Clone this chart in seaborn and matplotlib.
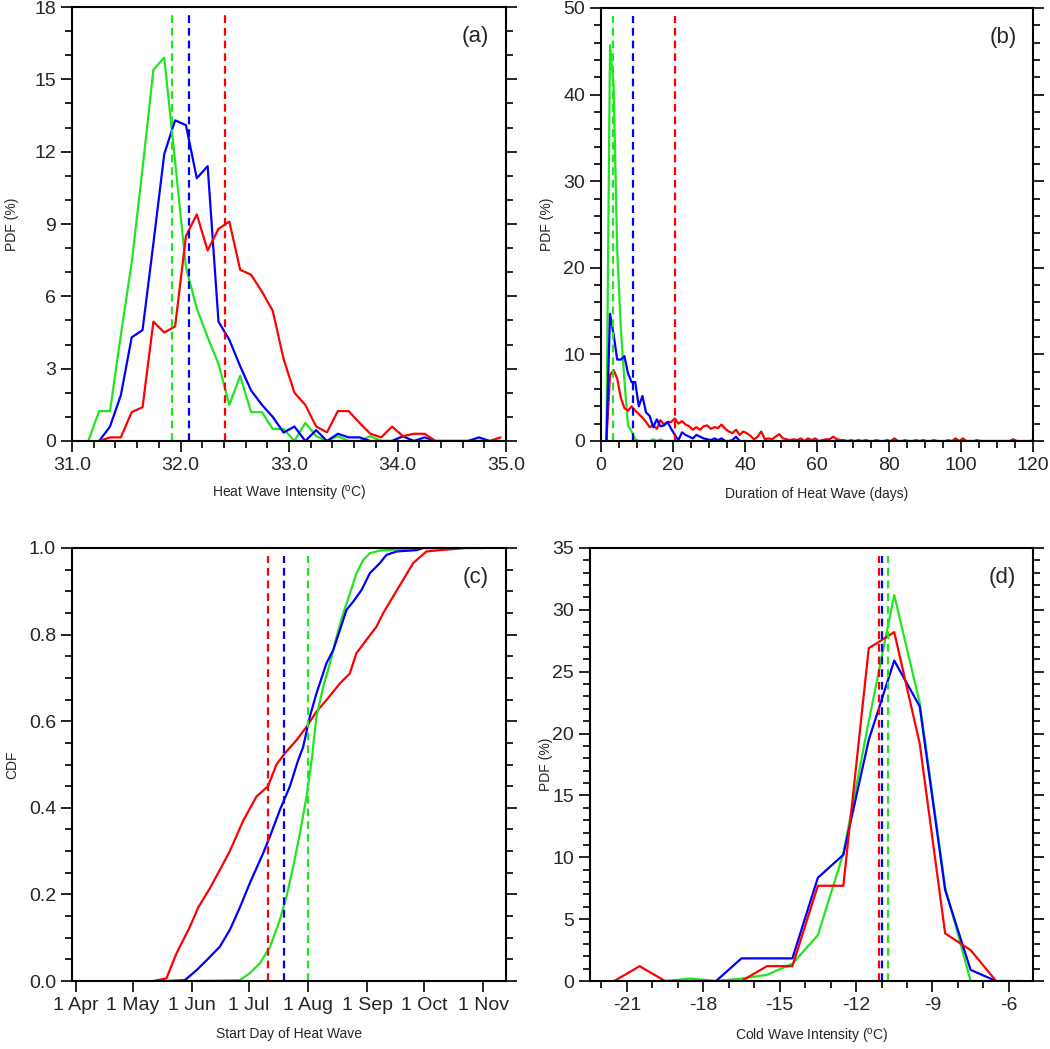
import numpy as np
import pandas as pd
import matplotlib
matplotlib.use('Agg')
import matplotlib.pyplot as plt
import seaborn as sns
from matplotlib.ticker import MultipleLocator, FixedLocator, FormatStrFormatter

# ---- data ----
# (a) heat wave intensity PDF, bin centres 31.15 .. 34.95
intensity_bins = np.round(np.arange(31.15, 35.0, 0.1), 2)
hw_int_green = [0, 1.24, 1.24, 4.4, 7.4, 11.3, 15.4, 15.9, 11.6, 7.2, 5.5, 4.3, 3.2, 1.5, 2.7,
                1.2, 1.2, 0.5, 0.5, 0, 0.75, 0.2, 0, 0.2, 0, 0, 0.2, 0, 0, 0.2,
                0, 0, 0, 0, 0, 0, 0, 0, 0]
hw_int_blue = [np.nan, 0, 0.6, 1.9, 4.3, 4.6, 8.2, 11.9, 13.3, 13.1, 10.9, 11.4, 4.95, 4.2, 3.1,
               2.1, 1.5, 1.0, 0.35, 0.6, 0, 0.45, 0, 0.3, 0.15, 0.15, 0, 0, 0, 0.2,
               0, 0.15, 0, 0, 0, 0, 0.15, 0, 0]
hw_int_red = [np.nan, 0, 0.15, 0.15, 1.2, 1.4, 4.95, 4.5, 4.75, 8.5, 9.4, 7.9, 8.8, 9.1, 7.1,
              6.9, 6.2, 5.4, 3.4, 2.0, 1.5, 0.6, 0.36, 1.24, 1.24, 0.75, 0.3, 0.15, 0.6, 0.2,
              0.3, 0.3, 0, 0, 0, 0, 0, 0, 0.15]
hw_int_means = {'green': 31.92, 'blue': 32.08, 'red': 32.41}

# (b) heat wave duration PDF, daily bins (centres at k + 0.5)
dur_green = [0, 45.7, 41, 22, 13, 7, 1.8, 1.1, 0.2, 0, 0, 0, 0, 0.2, 0, 0.2, 0, 0, 0, 0]
dur_blue = [0, 14.7, 12.3, 9.4, 9.4, 9.8, 7.8, 6.8, 6.8, 4.0, 5.2, 3.3, 2.9, 1.6, 2.5, 1.7, 1.8,
            2.2, 1.4, 0.7, 0.1, 1.0, 0.7, 0.5, 0.3, 0.7, 0.5, 0.3, 0.2, 0.1, 0.3, 0.1, 0.3,
            0, 0, 0.1, 0.5, 0, 0, 0]
dur_red = [0, 7.6, 8.2, 7.2, 5.0, 3.8, 3.5, 4.0, 3.5, 3.1, 2.7, 2.2, 1.6, 1.8, 1.4, 2.4, 1.9,
           2.2, 2.2, 2.6, 2.0, 2.3, 1.9, 1.7, 1.3, 1.6, 1.3, 1.7, 1.8, 1.4, 1.6, 1.5, 1.9,
           1.4, 1.1, 0.9, 1.3, 0.7, 1.1, 0.9, 0.6, 0.2, 0.5, 1.1, 0.2, 0.3, 0.2, 0.5, 0.8,
           0.3, 0.2, 0.1, 0.2, 0.1, 0.3, 0, 0.3, 0.1, 0.3, 0, 0.1, 0.2, 0.2, 0.5, 0.2, 0.1,
           0.1, 0, 0.1, 0, 0.1, 0, 0.1, 0, 0, 0.1, 0, 0, 0.1, 0, 0.3, 0, 0, 0.1, 0, 0, 0.1,
           0, 0.1, 0, 0, 0.1, 0, 0, 0, 0.1, 0, 0.3, 0, 0.3, 0, 0, 0, 0.1, 0, 0, 0, 0, 0, 0,
           0, 0, 0, 0.2, 0, 0, 0, 0, 0, 0.2]
dur_means = {'green': 3.2, 'blue': 8.8, 'red': 20.6}

# (c) start day CDF (day of year)
start_red_day = [131.6, 138.6, 143.9, 150.9, 155.3, 161.4, 166.6, 171.9, 178.9, 185.9, 192.0,
                 196.4, 200.8, 206.9, 212.2, 217.4, 222.7, 229.7, 234.9, 238.4, 243.7, 248.9,
                 252.4, 257.7, 262.9, 268.2, 275.2, 282.2, 296.0, 305.0]
start_red_cdf = [0, 0.006, 0.064, 0.125, 0.17, 0.214, 0.256, 0.30, 0.37, 0.426, 0.45,
                 0.50, 0.526, 0.556, 0.587, 0.622, 0.649, 0.687, 0.71, 0.757, 0.788, 0.818,
                 0.849, 0.888, 0.926, 0.965, 0.992, 0.995, 1.0, 1.0]
start_blue_day = [139.5, 148.3, 154.4, 159.7, 166.6, 171.9, 177.2, 182.4, 189.4, 192.9, 198.2,
                  203.4, 207.8, 210.4, 213.9, 217.4, 222.7, 226.2, 229.7, 233.2, 236.7, 241.1,
                  245.5, 250.7, 254.2, 259.5, 270.0, 273.5, 290.0]
start_blue_cdf = [0, 0.002, 0.025, 0.048, 0.079, 0.118, 0.17, 0.226, 0.295, 0.333, 0.395,
                  0.449, 0.51, 0.54, 0.61, 0.664, 0.734, 0.764, 0.81, 0.857, 0.876, 0.903,
                  0.942, 0.965, 0.984, 0.992, 0.995, 1.0, 1.0]
start_green_day = [152.6, 177.2, 182.4, 187.7, 193.0, 198.2, 201.7, 205.2, 208.7, 212.2, 214.9,
                   217.4, 221.0, 224.5, 228.0, 231.5, 235.0, 238.4, 241.9, 245.5, 250.7, 261.2,
                   270.0, 285.0]
start_green_cdf = [0, 0.002, 0.018, 0.041, 0.079, 0.141, 0.195, 0.264, 0.341, 0.426, 0.51,
                   0.61, 0.68, 0.734, 0.795, 0.849, 0.895, 0.941, 0.972, 0.988, 0.994, 0.997,
                   1.0, 1.0]
start_means = {'green': 212.8, 'blue': 200.5, 'red': 192.0}
month_days = [91, 121, 152, 182, 213, 244, 274, 305]
month_labels = ['1 Apr', '1 May', '1 Jun', '1 Jul', '1 Aug', '1 Sep', '1 Oct', '1 Nov']

# (d) cold wave intensity PDF
cold_bins = [-21.5, -20.5, -19.5, -18.5, -17.5, -16.5, -15.5, -14.5, -13.5,
             -12.5, -11.5, -10.5, -9.5, -8.5, -7.5, -6.5, -5.5]
cw_green = [np.nan, np.nan, 0, 0.2, 0, 0.2, 0.5, 1.4, 3.7, 10.3, 21.0, 31.2, 22.5, 7.6, 0,
            np.nan, np.nan]
cw_blue = [np.nan, np.nan, np.nan, np.nan, 0, 1.83, 1.83, 1.83, 8.35, 10.2, 19.5, 25.9, 22.2,
           7.35, 0.9, 0, 0]
cw_red = [0, 1.2, 0, 0, 0, 0, 1.2, 1.2, 7.7, 7.7, 26.9, 28.2, 19.2, 3.85, 2.5, 0, np.nan]
cw_means = {'green': -10.76, 'blue': -10.98, 'red': -11.08}

COLORS = {'green': '#1fe61f', 'blue': '#0000ff', 'red': '#ff0000'}
LW = 1.6

# ---- style ----
sns.set_style('ticks')
plt.rcParams['font.family'] = ['Liberation Sans', 'DejaVu Sans']
plt.rcParams['mathtext.fontset'] = 'custom'
plt.rcParams['mathtext.rm'] = 'Liberation Sans'
plt.rcParams['axes.unicode_minus'] = False
plt.rcParams['axes.linewidth'] = 1.5
plt.rcParams['axes.edgecolor'] = 'black'


def draw_lines(ax, x, series):
    for name, y in series:
        df = pd.DataFrame({'x': x, 'y': y}).dropna()
        sns.lineplot(data=df, x='x', y='y', ax=ax, color=COLORS[name], linewidth=LW,
                     estimator=None, sort=False, legend=False)


def draw_means(ax, means, order):
    for name in order:
        ax.axvline(means[name], ymin=0, ymax=0.982, color=COLORS[name], linewidth=LW,
                   linestyle=(0, (3.5, 2.2)))


def style_axes(ax, letter, xlabel, ylabel, ylab_x, xlab_y):
    ax.tick_params(which='both', direction='out', left=True, right=True, bottom=True,
                   top=False, labelsize=14, width=1.2, color='black')
    ax.tick_params(which='major', length=8)
    ax.tick_params(which='minor', length=5)
    ax.set_xlabel(xlabel, fontsize=10, va='center')
    ax.set_ylabel(ylabel, fontsize=10, va='center')
    ax.xaxis.set_label_coords(0.5, xlab_y)
    ax.yaxis.set_label_coords(ylab_x, 0.5)
    ax.text(0.93, 0.932, letter, transform=ax.transAxes, fontsize=16,
            ha='center', va='center')
    for s in ax.spines.values():
        s.set_visible(True)
        s.set_linewidth(1.5)


fig = plt.figure(figsize=(10.5, 10.49), dpi=100)
ax_a = fig.add_axes([0.0686, 0.5796, 0.4133, 0.4137])
ax_b = fig.add_axes([0.5724, 0.5796, 0.4114, 0.4128])
ax_c = fig.add_axes([0.0686, 0.0648, 0.4133, 0.4128])
ax_d = fig.add_axes([0.5619, 0.0648, 0.4219, 0.4128])

# (a)
draw_lines(ax_a, intensity_bins, [('green', hw_int_green), ('blue', hw_int_blue),
                                  ('red', hw_int_red)])
draw_means(ax_a, hw_int_means, ['green', 'blue', 'red'])
ax_a.set_xlim(31.0, 35.0)
ax_a.set_ylim(0, 18)
ax_a.xaxis.set_major_locator(MultipleLocator(1.0))
ax_a.xaxis.set_minor_locator(MultipleLocator(0.2))
ax_a.xaxis.set_major_formatter(FormatStrFormatter('%.1f'))
ax_a.yaxis.set_major_locator(MultipleLocator(3))
ax_a.yaxis.set_minor_locator(MultipleLocator(1))
style_axes(ax_a, '(a)', r'Heat Wave Intensity ($^{\rm o}$C)', 'PDF (%)', -0.138, -0.122)

# (b)
draw_lines(ax_b, np.arange(1, len(dur_green) + 1) + 0.5, [('green', dur_green)])
draw_lines(ax_b, np.arange(1, len(dur_red) + 1) + 0.5, [('red', dur_red)])
draw_lines(ax_b, np.arange(1, len(dur_blue) + 1) + 0.5, [('blue', dur_blue)])
draw_means(ax_b, dur_means, ['green', 'blue', 'red'])
ax_b.set_xlim(0, 120)
ax_b.set_ylim(0, 50)
ax_b.xaxis.set_major_locator(MultipleLocator(20))
ax_b.xaxis.set_minor_locator(MultipleLocator(5))
ax_b.yaxis.set_major_locator(MultipleLocator(10))
ax_b.yaxis.set_minor_locator(MultipleLocator(2))
style_axes(ax_b, '(b)', 'Duration of Heat Wave (days)', 'PDF (%)', -0.125, -0.122)

# (c)
sns.lineplot(x=start_red_day, y=start_red_cdf, ax=ax_c, color=COLORS['red'], linewidth=LW,
             estimator=None, sort=False)
sns.lineplot(x=start_green_day, y=start_green_cdf, ax=ax_c, color=COLORS['green'],
             linewidth=LW, estimator=None, sort=False)
sns.lineplot(x=start_blue_day, y=start_blue_cdf, ax=ax_c, color=COLORS['blue'], linewidth=LW,
             estimator=None, sort=False)
draw_means(ax_c, start_means, ['red', 'blue', 'green'])
ax_c.set_xlim(89, 317)
ax_c.set_ylim(0, 1.0)
ax_c.xaxis.set_major_locator(FixedLocator(month_days))
ax_c.set_xticks(month_days)
ax_c.set_xticklabels(month_labels)
ax_c.yaxis.set_major_locator(MultipleLocator(0.2))
ax_c.yaxis.set_minor_locator(MultipleLocator(0.05))
ax_c.yaxis.set_major_formatter(FormatStrFormatter('%.1f'))
style_axes(ax_c, '(c)', 'Start Day of Heat Wave', 'CDF', -0.138, -0.122)

# (d)
draw_lines(ax_d, cold_bins, [('green', cw_green), ('blue', cw_blue), ('red', cw_red)])
draw_means(ax_d, cw_means, ['red', 'blue', 'green'])
ax_d.set_xlim(-22.45, -5.05)
ax_d.set_ylim(0, 35)
ax_d.xaxis.set_major_locator(MultipleLocator(3))
ax_d.xaxis.set_minor_locator(MultipleLocator(1))
ax_d.yaxis.set_major_locator(MultipleLocator(5))
ax_d.yaxis.set_minor_locator(MultipleLocator(1))
style_axes(ax_d, '(d)', r'Cold Wave Intensity ($^{\rm o}$C)', 'PDF (%)', -0.10, -0.129)

fig.savefig('out.png', dpi=100)
